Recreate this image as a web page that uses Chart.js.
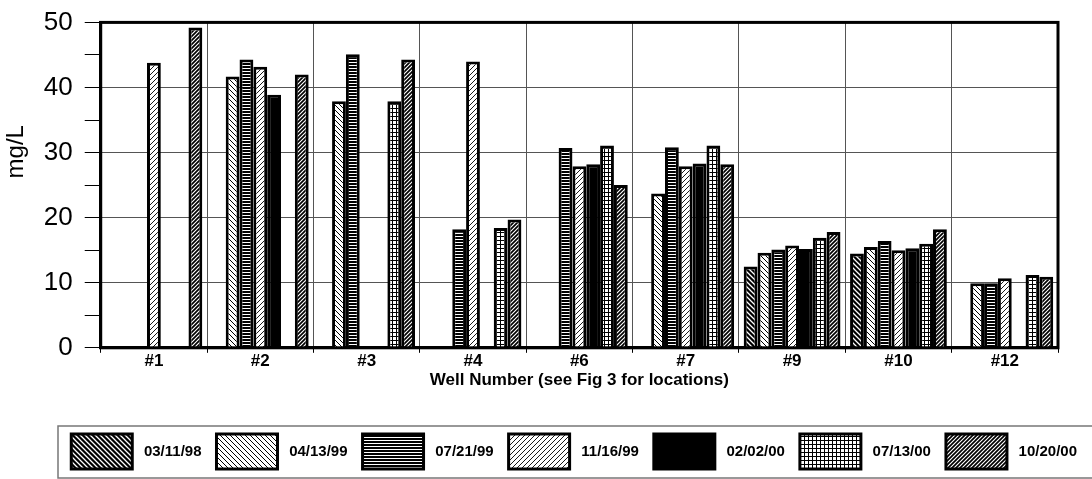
<!DOCTYPE html>
<html>
<head>
<meta charset="utf-8">
<script src="https://cdn.jsdelivr.net/npm/chart.js@4/dist/chart.umd.min.js"></script>
<style>
  body { margin: 0; background: #fff; }
</style>
</head>
<body>
<canvas id="canvas" width="1092" height="479"></canvas>
<script>
const wells = ['#1', '#2', '#3', '#4', '#6', '#7', '#9', '#10', '#12']
const dates = ['03/11/98', '04/13/99', '07/21/99', '11/16/99', '02/02/00', '07/13/00', '10/20/00']

// mg/L per sampling date, one value per well (null = not sampled)
const d031198 = [null, null, null, null, null, null, 12.5, 14.5, null]
const d041399 = [null, 41.7, 37.9, null, null, 23.7, 14.6, 15.5, 9.9]
const d072199 = [null, 44.3, 45.1, 18.2, 30.7, 30.8, 15.1, 16.4, 9.9]
const d111699 = [43.8, 43.2, null, 44.0, 27.9, 27.9, 15.7, 15.0, 10.7]
const d020200 = [null, 38.9, null, null, 28.2, 28.3, 15.2, 15.3, null]
const d071300 = [null, null, 37.9, 18.4, 31.1, 31.1, 16.9, 16.0, 11.2]
const d102000 = [49.2, 42.0, 44.3, 19.7, 25.0, 28.2, 17.8, 18.2, 10.9]

const yTicks = [0, 10, 20, 30, 40, 50]

function makePattern(kind) {
  const c = document.createElement('canvas')
  const s = kind == 'hlines' ? 3 : (kind == 'grid' || kind == 'darkslash' ? 4 : 5)
  c.width = s
  c.height = s
  const g = c.getContext('2d')
  g.fillStyle = kind == 'darkback' || kind == 'solid' ? '#000' : '#fff'
  g.fillRect(0, 0, s, s)
  g.strokeStyle = kind == 'darkback' ? '#fff' : '#000'
  if (kind == 'darkback' || kind == 'lightback') {
    g.lineWidth = kind == 'darkback' ? 1.3 : 1
    g.beginPath()
    g.moveTo(0, 0); g.lineTo(s, s)
    g.moveTo(-1, s - 1); g.lineTo(1, s + 1)
    g.moveTo(s - 1, -1); g.lineTo(s + 1, 1)
    g.stroke()
  } else if (kind == 'lightslash' || kind == 'darkslash') {
    g.lineWidth = kind == 'darkslash' ? 1.7 : 0.9
    g.beginPath()
    g.moveTo(0, s); g.lineTo(s, 0)
    g.moveTo(-1, 1); g.lineTo(1, -1)
    g.moveTo(s - 1, s + 1); g.lineTo(s + 1, s - 1)
    g.stroke()
  } else if (kind == 'hlines') {
    g.fillStyle = '#000'
    g.fillRect(0, 0, s, 2)
  } else if (kind == 'grid') {
    g.fillStyle = '#000'
    g.fillRect(0, 0, s, 1)
    g.fillRect(0, 0, 1, s)
  }
  return g.createPattern(c, 'repeat')
}

const series = [d031198, d041399, d072199, d111699, d020200, d071300, d102000]
const fills = ['darkback', 'lightback', 'hlines', 'lightslash', 'solid', 'grid', 'darkslash']

const font = 'Liberation Sans, Arial, sans-serif'

const frame = {
  id: 'frame',
  afterDatasetsDraw(chart) {
    const { ctx, chartArea: a } = chart
    ctx.save()
    ctx.strokeStyle = '#000'
    ctx.lineWidth = 3
    ctx.strokeRect(a.left, a.top, a.right - a.left, a.bottom - a.top)
    ctx.restore()
  },
  afterDraw(chart) {
    const L = chart.legend
    const ctx = chart.ctx
    ctx.save()
    ctx.strokeStyle = '#777'
    ctx.lineWidth = 1.5
    ctx.strokeRect(58, L.top + 7, 1100, L.bottom - L.top - 8)
    ctx.restore()
  }
}

const data = {
  labels: wells,
  datasets: series.map((vals, i) => ({
    label: dates[i],
    data: vals,
    yAxisID: 'y',
    backgroundColor: makePattern(fills[i]),
    borderColor: '#000',
    borderWidth: 3,
    categoryPercentage: 0.91,
    barPercentage: 1.0,
  })),
}

const config = {
  type: 'bar',
  data: data,
  plugins: [frame],
  options: {
    responsive: false,
    animation: false,
    layout: { padding: { top: 0, left: 0, right: 0, bottom: 0 } },
    scales: {
      x: {
        offset: true,
        grid: { offset: true, color: '#555', lineWidth: 1, tickColor: '#000', tickLength: 5 },
        border: { color: '#000', width: 3 },
        ticks: { color: '#000', padding: 0, font: { family: font, size: 17, weight: 'bold', lineHeight: 1 } },
        title: {
          display: true,
          text: 'Well Number (see Fig 3 for locations)',
          color: '#000',
          font: { family: font, size: 17, weight: 'bold' },
          padding: { top: 0, bottom: 28.8 },
        },
      },
      y: {
        min: 0,
        max: 50,
        ticks: {
          stepSize: 5,
          autoSkip: false,
          color: '#000',
          padding: 12,
          font: { family: font, size: 26, lineHeight: 0.8 },
          callback: v => yTicks.includes(v) ? v : '',
        },
        grid: {
          color: ctx => ctx.tick && yTicks.includes(ctx.tick.value) ? '#555' : 'rgba(0,0,0,0)',
          tickColor: '#000',
          tickLength: 16,
          lineWidth: 1,
        },
        border: { color: '#000', width: 3 },
        title: {
          display: true,
          text: '          mg/L',
          color: '#000',
          font: { family: font, size: 24 },
          padding: { top: 2, bottom: 1 },
        },
      },
      yR: {
        position: 'right',
        grid: { display: false },
        border: { display: false },
        ticks: { display: false },
        afterFit: s => { s.width = 34 },
      },
    },
    plugins: {
      tooltip: { enabled: false },
      legend: {
        position: 'bottom',
        align: 'end',
        labels: {
          boxWidth: 61,
          boxHeight: 35,
          padding: 15,
          color: '#000',
          font: { family: font, size: 15, weight: 'bold' },
          generateLabels: chart => Chart.defaults.plugins.legend.labels.generateLabels(chart)
            .map(l => Object.assign(l, { text: ' ' + l.text })),
        },
      },
    },
  },
}

const canvas = document.getElementById('canvas')
const chart = new Chart(canvas, config)
</script>
</body>
</html>
